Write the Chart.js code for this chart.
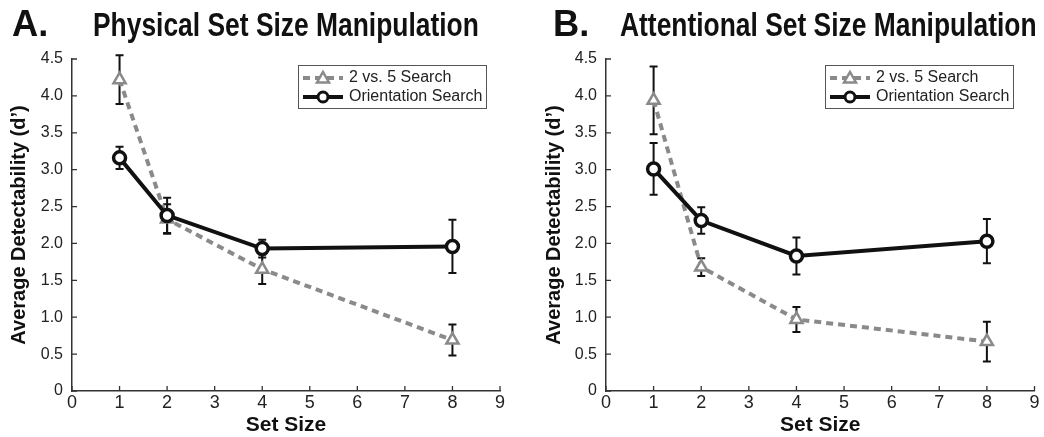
<!DOCTYPE html>
<html>
<head>
<meta charset="utf-8">
<script src="https://cdn.jsdelivr.net/npm/chart.js@4.4.1/dist/chart.umd.min.js"></script>
<style>
  html, body { margin: 0; padding: 0; background: #fff; }
  #wrap { position: relative; width: 1044px; height: 437px; overflow: hidden; }
  .panel { position: absolute; top: 0; width: 522px; height: 437px; }
  .ttl { position: absolute; font-family: "Liberation Sans", Arial, sans-serif; font-weight: bold; color: #111; white-space: nowrap; line-height: 1; transform-origin: 0 0; }
  .big { font-size: 37px; top: 5px; transform: scaleX(0.98); }
  .sub { font-size: 33px; top: 8px; transform: scaleX(0.8); }
</style>
</head>
<body>
<div id="wrap">
  <div class="panel" style="left:0"><canvas id="cA" width="522" height="437"></canvas></div>
  <div class="panel" style="left:522px"><canvas id="cB" width="522" height="437"></canvas></div>
  <div class="ttl big" style="left:12px">A.</div>
  <div class="ttl sub" style="left:93px">Physical Set Size Manipulation</div>
  <div class="ttl big" style="left:553px">B.</div>
  <div class="ttl sub" style="left:620px">Attentional Set Size Manipulation</div>
</div>
<script>
// ---- data ----
const setSizes = [1, 2, 4, 8];
const seriesNames = ['2 vs. 5 Search', 'Orientation Search'];
const xTicks = [0, 1, 2, 3, 4, 5, 6, 7, 8, 9];
const yTicks = [0, 0.5, 1.0, 1.5, 2.0, 2.5, 3.0, 3.5, 4.0, 4.5];

const physSearch25 = [4.22, 2.33, 1.65, 0.69];
const physSearch25Err = [0.33, 0.20, 0.20, 0.21];
const physOrient = [3.16, 2.38, 1.93, 1.96];
const physOrientErr = [0.15, 0.24, 0.12, 0.36];

const attnSearch25 = [3.94, 1.68, 0.97, 0.67];
const attnSearch25Err = [0.46, 0.12, 0.17, 0.27];
const attnOrient = [3.01, 2.31, 1.83, 2.03];
const attnOrientErr = [0.35, 0.18, 0.25, 0.30];

const sans = '"Liberation Sans", Arial, sans-serif';

const GRAY = '#8a8a8a';
const BLACK = '#111';

const pts = (ys) => setSizes.map((x, i) => ({ x: x, y: ys[i] }));

const errorBarPlugin = {
  id: 'errorBars',
  beforeDatasetsDraw(chart, args, opts) {
    const ctx = chart.ctx, xs = chart.scales.x, ys = chart.scales.y;
    ctx.save();
    ctx.strokeStyle = BLACK;
    ctx.lineWidth = 2;
    (opts.sets || []).forEach(set => {
      set.vals.forEach((v, i) => {
        const px = xs.getPixelForValue(setSizes[i]);
        const top = ys.getPixelForValue(v + set.err[i]);
        const bot = ys.getPixelForValue(v - set.err[i]);
        ctx.beginPath();
        ctx.moveTo(px, top); ctx.lineTo(px, bot);
        ctx.moveTo(px - 4, top); ctx.lineTo(px + 4, top);
        ctx.moveTo(px - 4, bot); ctx.lineTo(px + 4, bot);
        ctx.stroke();
      });
    });
    ctx.restore();
  }
};

const inwardTicksPlugin = {
  id: 'inwardTicks',
  afterDraw(chart) {
    const ctx = chart.ctx, xs = chart.scales.x, ys = chart.scales.y, a = chart.chartArea;
    ctx.save();
    ctx.strokeStyle = '#333';
    ctx.lineWidth = 1.3;
    ctx.beginPath();
    xTicks.forEach(t => { const p = xs.getPixelForValue(t); ctx.moveTo(p, a.bottom); ctx.lineTo(p, a.bottom - 5); });
    yTicks.forEach(t => { const p = ys.getPixelForValue(t); ctx.moveTo(a.left, p); ctx.lineTo(a.left + 5, p); });
    ctx.stroke();
    ctx.restore();
  }
};

const legendPlugin = {
  id: 'boxLegend',
  afterDraw(chart, args, opts) {
    const ctx = chart.ctx;
    const x = opts.x, y = opts.y, w = opts.w, h = opts.h;
    ctx.save();
    ctx.fillStyle = '#fff';
    ctx.fillRect(x, y, w, h);
    ctx.strokeStyle = '#555';
    ctx.lineWidth = 1;
    ctx.strokeRect(x + 0.5, y + 0.5, w, h);
    const rows = [y + 13, y + 32];
    const sx0 = x + 5, sx1 = x + 45, mid = (sx0 + sx1) / 2;
    ctx.strokeStyle = GRAY; ctx.lineWidth = 4; ctx.setLineDash([7, 5]);
    ctx.beginPath(); ctx.moveTo(sx0, rows[0]); ctx.lineTo(sx1, rows[0]); ctx.stroke();
    ctx.setLineDash([]);
    ctx.fillStyle = '#fff'; ctx.lineWidth = 2.5;
    ctx.beginPath();
    ctx.moveTo(mid, rows[0] - 6); ctx.lineTo(mid + 6, rows[0] + 4.5); ctx.lineTo(mid - 6, rows[0] + 4.5); ctx.closePath();
    ctx.fill(); ctx.stroke();
    ctx.strokeStyle = BLACK; ctx.lineWidth = 4;
    ctx.beginPath(); ctx.moveTo(sx0, rows[1]); ctx.lineTo(sx1, rows[1]); ctx.stroke();
    ctx.lineWidth = 3; ctx.fillStyle = '#fff';
    ctx.beginPath(); ctx.arc(mid, rows[1], 5, 0, Math.PI * 2); ctx.fill(); ctx.stroke();
    ctx.fillStyle = '#222';
    ctx.font = '16px ' + sans;
    ctx.textBaseline = 'middle';
    ctx.fillText(seriesNames[0], x + 51, rows[0]);
    ctx.fillText(seriesNames[1], x + 51, rows[1]);
    ctx.restore();
  }
};

function makeChart(id, search, searchErr, orient, orientErr, padLeft, yWidth, padRight, legendX) {
  return new Chart(document.getElementById(id), {
    type: 'line',
    data: {
      datasets: [
        {
          label: seriesNames[1], data: pts(orient), order: 1,
          borderColor: BLACK, borderWidth: 4, pointStyle: 'circle', pointRadius: 6,
          pointBorderWidth: 3.5, pointBorderColor: BLACK, pointBackgroundColor: '#fff', tension: 0
        },
        {
          label: seriesNames[0], data: pts(search), order: 2,
          borderColor: GRAY, borderWidth: 4, borderDash: [7, 5], pointStyle: 'triangle', pointRadius: 7,
          pointBorderWidth: 2.5, pointBorderColor: GRAY, pointBackgroundColor: '#fff', tension: 0
        }
      ]
    },
    options: {
      responsive: false,
      animation: false,
      events: [],
      layout: { padding: { left: padLeft, right: padRight, top: 59, bottom: 0 } },
      plugins: {
        legend: { display: false },
        tooltip: { enabled: false },
        errorBars: { sets: [ { vals: search, err: searchErr }, { vals: orient, err: orientErr } ] },
        boxLegend: { x: legendX, y: 65, w: 188, h: 43 }
      },
      scales: {
        x: {
          type: 'linear', min: 0, max: 9,
          afterBuildTicks: (s) => { s.ticks = xTicks.map(v => ({ value: v })); },
          afterFit: (s) => { s.height = 46; },
          grid: { display: false, drawTicks: false },
          border: { display: true, color: '#333', width: 1.5 },
          ticks: { font: { family: sans, size: 18 }, color: '#222', padding: 1, maxRotation: 0, autoSkip: false },
          title: { display: true, text: 'Set Size', font: { family: sans, size: 21, weight: 'bold' }, color: '#111', padding: { top: 0, bottom: -1 } }
        },
        y: {
          min: 0, max: 4.5,
          afterBuildTicks: (s) => { s.ticks = yTicks.map(v => ({ value: v })); },
          afterFit: (s) => { s.width = yWidth; },
          grid: { display: false, drawTicks: false },
          border: { display: true, color: '#333', width: 1.5 },
          ticks: {
            font: { family: sans, size: 16 }, color: '#222', padding: 9,
            callback: (v) => v === 0 ? '0' : v.toFixed(1)
          },
          title: { display: true, text: 'Average Detectability (d’)', font: { family: sans, size: 20, weight: 'bold' }, color: '#111', padding: { top: 7, bottom: 0 } }
        }
      }
    },
    plugins: [errorBarPlugin, inwardTicksPlugin, legendPlugin]
  });
}

makeChart('cA', physSearch25, physSearch25Err, physOrient, physOrientErr, 0, 72, 22, 298);
makeChart('cB', attnSearch25, attnSearch25Err, attnOrient, attnOrientErr, 13, 71, 9, 303);
</script>
</body>
</html>
